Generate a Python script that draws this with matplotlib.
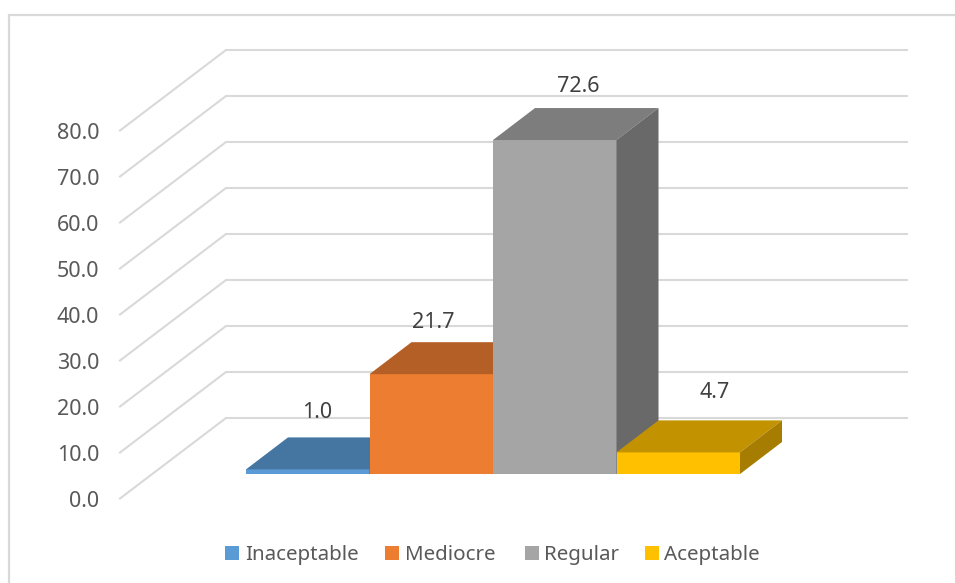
import matplotlib
matplotlib.use('Agg')
import matplotlib.pyplot as plt
from matplotlib.patches import Polygon, Rectangle

categories = ['Inaceptable', 'Mediocre', 'Regular', 'Aceptable']
values = [1.0, 21.7, 72.6, 4.7]
y_ticks = [0, 10, 20, 30, 40, 50, 60, 70, 80]

front_colors = ['#5B9BD5', '#ED7D31', '#A5A5A5', '#FFC000']
top_colors = ['#4576A2', '#B45F25', '#7D7D7D', '#C29200']
side_colors = ['#3D6A92', '#A05420', '#696969', '#A67D00']
GRID = '#D9D9D9'
TEXT = '#595959'
LABEL = '#404040'
FONT = 'Noto Sans'

W, H = 955, 583
PX_PER_UNIT = 4.6      # vertical pixels per value unit
BAR_PX = 123.5         # pixel width of one category
BASE_X, BASE_Y = 246, 474

# bar depth, in data units
DEPTH_X = 42 / BAR_PX
DEPTH_Y = 32 / PX_PER_UNIT

# floor corners relative to the bars' front base line
WALL_LEFT_X = (120 - BASE_X) / BAR_PX
WALL_REAR_X = (226 - BASE_X) / BAR_PX
WALL_RIGHT_X = (907 - BASE_X) / BAR_PX
WALL_FRONT_Y = (BASE_Y - 498.5) / PX_PER_UNIT
WALL_REAR_Y = (BASE_Y - 418) / PX_PER_UNIT

fig = plt.figure(figsize=(W / 100, H / 100), dpi=100)
ax = fig.add_axes([0, 0, 1, 1])
ax.set_xlim(-BASE_X / BAR_PX, (W - BASE_X) / BAR_PX)
ax.set_ylim((BASE_Y - H) / PX_PER_UNIT, BASE_Y / PX_PER_UNIT)
ax.axis('off')

# chart frame
frame = Rectangle((8.5 / W, -0.02), 2, 1.02 - 15 / H, transform=ax.transAxes,
                  fill=False, edgecolor=GRID, linewidth=1.6, clip_on=True)
ax.add_patch(frame)

# gridlines: left wall then rear wall
for v in y_ticks:
    ax.plot([WALL_LEFT_X, WALL_REAR_X, WALL_RIGHT_X],
            [WALL_FRONT_Y + v, WALL_REAR_Y + v, WALL_REAR_Y + v],
            color=GRID, linewidth=1.5, solid_joinstyle='miter', zorder=1)
    ax.text((99 - BASE_X) / BAR_PX, WALL_FRONT_Y + v - 0.7, f'{v:.1f}',
            ha='right', va='center', color=TEXT, fontsize=15.5, family=FONT, zorder=2)

# bars, left to right so each one overlaps the previous
for i, v in enumerate(values):
    z = 3 + i
    ax.bar(i, v, width=1, align='edge', color=front_colors[i], linewidth=0, zorder=z)
    ax.add_patch(Polygon([(i, v), (i + 1, v), (i + 1 + DEPTH_X, v + DEPTH_Y), (i + DEPTH_X, v + DEPTH_Y)],
                         closed=True, facecolor=top_colors[i], edgecolor='none', zorder=z))
    ax.add_patch(Polygon([(i + 1, 0), (i + 1, v), (i + 1 + DEPTH_X, v + DEPTH_Y), (i + 1 + DEPTH_X, DEPTH_Y)],
                         closed=True, facecolor=side_colors[i], edgecolor='none', zorder=z))

# value labels sit above each bar's top face
label_px = [(317, 413), (433, 322), (578, 86), (715, 392)]
for v, (px, py) in zip(values, label_px):
    ax.text((px - BASE_X) / BAR_PX, (BASE_Y - py) / PX_PER_UNIT, f'{v:.1f}',
            ha='center', va='center', color=LABEL, fontsize=15.5, family=FONT, zorder=10)

# legend
legend_px = [(225, 245), (385, 405), (525, 544), (645, 664)]
for name, color, (box_px, text_px) in zip(categories, front_colors, legend_px):
    ax.add_patch(Rectangle(((box_px - BASE_X) / BAR_PX, (BASE_Y - 560) / PX_PER_UNIT),
                           14 / BAR_PX, 14 / PX_PER_UNIT, facecolor=color, edgecolor='none', zorder=10))
    ax.text((text_px - BASE_X) / BAR_PX, (BASE_Y - 555) / PX_PER_UNIT, name,
            ha='left', va='center', color=TEXT, fontsize=14.8, family=FONT, zorder=10)

fig.savefig('out.png', dpi=100, facecolor='white')
